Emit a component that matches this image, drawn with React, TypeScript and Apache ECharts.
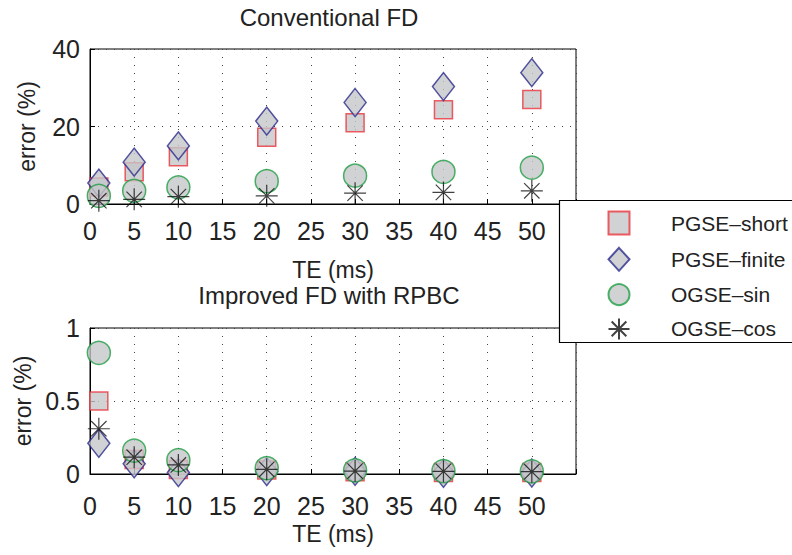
import React, { useEffect, useRef } from "react";
import * as echarts from "echarts";

const teValues = [1, 5, 10, 20, 30, 40, 50];
const seriesNames = ["PGSE–short", "PGSE–finite", "OGSE–sin", "OGSE–cos"];

const pgseShortTop = [4.4, 8.3, 12.2, 17.2, 21.0, 24.3, 27.0];
const pgseFiniteTop = [5.4, 10.8, 15.0, 21.4, 26.2, 30.3, 33.9];
const ogseSinTop = [2.1, 3.4, 4.3, 5.9, 7.3, 8.3, 9.4];
const ogseCosTop = [0.85, 1.2, 1.9, 2.1, 2.8, 3.0, 3.4];

const pgseShortBot = [0.5, 0.1, 0.03, 0.027, 0.015, 0.01, 0.01];
const pgseFiniteBot = [0.21, 0.07, 0.01, 0.017, 0.018, 0.005, 0.007];
const ogseSinBot = [0.83, 0.16, 0.095, 0.04, 0.025, 0.02, 0.018];
const ogseCosBot = [0.31, 0.115, 0.062, 0.032, 0.02, 0.018, 0.016];

const xTicks = [0, 5, 10, 15, 20, 25, 30, 35, 40, 45, 50];
const titles = ["Conventional FD", "Improved FD with RPBC"];

const FONT = "Liberation Sans, Arial, Helvetica, sans-serif";
const GRAY = "#c5c7c9";
const STAR = "path://M10,0L10,20M0,10L20,10M3,3L17,17M3,17L17,3";

const markerStyles = [
  { symbol: "rect", symbolSize: 18, itemStyle: { color: GRAY, borderColor: "#e8343c", borderWidth: 1.5 } },
  { symbol: "diamond", symbolSize: [22, 28], itemStyle: { color: GRAY, borderColor: "#2b2b8c", borderWidth: 1.5 } },
  { symbol: "circle", symbolSize: 23, itemStyle: { color: GRAY, borderColor: "#1f9e44", borderWidth: 1.5 } },
  { symbol: STAR, symbolSize: 22, itemStyle: { color: "rgba(0,0,0,0)", borderColor: "#111", borderWidth: 1.2 } },
];

export default function App() {
  const ref = useRef<HTMLDivElement>(null);
  useEffect(() => {
    if (!ref.current) return;
    const chart = echarts.init(ref.current, undefined, { renderer: "svg" });
    const topData = [pgseShortTop, pgseFiniteTop, ogseSinTop, ogseCosTop];
    const botData = [pgseShortBot, pgseFiniteBot, ogseSinBot, ogseCosBot];
    const pair = (vals: number[]) => teValues.map((x, i) => [x, vals[i]]);

    const mkX = (gridIndex: number, margin: number, nameGap: number) => ({
      type: "value",
      gridIndex,
      min: 0,
      max: 55,
      interval: 5,
      name: "TE (ms)",
      nameLocation: "middle",
      nameGap,
      nameTextStyle: { fontSize: 23, color: "#222", fontFamily: FONT },
      axisLine: { show: true, lineStyle: { color: "#000", width: 1 } },
      axisTick: { show: true, inside: true, length: 5, lineStyle: { color: "#000" } },
      axisLabel: {
        margin,
        fontSize: 25,
        color: "#222",
        fontFamily: FONT,
        formatter: (v: number) => (xTicks.includes(v) ? String(v) : ""),
      },
      splitLine: { show: true, lineStyle: { color: "#444", type: [1, 7], width: 1 } },
    });
    const mkY = (gridIndex: number, max: number, interval: number) => ({
      type: "value",
      gridIndex,
      min: 0,
      max,
      interval,
      name: "error (%)",
      nameLocation: "middle",
      nameGap: 52,
      nameTextStyle: { fontSize: 23, color: "#222", fontFamily: FONT },
      axisLine: { show: true, lineStyle: { color: "#000", width: 1 } },
      axisTick: { show: true, inside: true, length: 5, lineStyle: { color: "#000" } },
      axisLabel: { margin: 10, fontSize: 25, color: "#222", fontFamily: FONT },
      splitLine: { show: true, lineStyle: { color: "#444", type: [1, 7], width: 1 } },
    });

    const series: any[] = [];
    [topData, botData].forEach((set, g) => {
      set.forEach((vals, k) => {
        series.push({
          type: "scatter",
          name: seriesNames[k],
          xAxisIndex: g,
          yAxisIndex: g,
          data: pair(vals),
          ...markerStyles[k],
          z: 2 + k * 0.01,
        });
      });
    });

    chart.setOption({
      animation: false,
      backgroundColor: "#fff",
      title: [
        { text: titles[0], left: 329, top: 5, textAlign: "center", padding: 0,
          textStyle: { fontSize: 24, fontWeight: "normal", color: "#222", fontFamily: FONT } },
        { text: titles[1], left: 329, top: 283, textAlign: "center", padding: 0,
          textStyle: { fontSize: 24, fontWeight: "normal", color: "#222", fontFamily: FONT } },
      ],
      grid: [
        { left: 90, top: 49, width: 486, height: 155, show: true, borderColor: "#000", borderWidth: 1, containLabel: false },
        { left: 90, top: 328, width: 486, height: 146, show: true, borderColor: "#000", borderWidth: 1, containLabel: false },
      ],
      xAxis: [mkX(0, 14, 54), mkX(1, 19, 48)],
      yAxis: [mkY(0, 40, 20), mkY(1, 1, 0.5)],
      legend: {
        data: seriesNames,
        orient: "vertical",
        left: 607.5,
        top: 210.5,
        padding: 0,
        itemWidth: 21,
        itemHeight: 23,
        itemGap: 11.3,
        z: 10,
        textStyle: { fontSize: 21, color: "#222", fontFamily: FONT, padding: [0, 0, 0, 36.5] },
      },
      graphic: {
        z: 5,
        elements: [
          {
            type: "rect",
            z: 5,
            shape: { x: 559.5, y: 200.5, width: 260, height: 142 },
            style: { fill: "#fff", stroke: "#000", lineWidth: 1.2 },
          },
        ],
      },
      series,
    });
    return () => chart.dispose();
  }, []);
  return <div ref={ref} style={{ width: 792, height: 555, position: "absolute", left: 0, top: 0 }} />;
}
